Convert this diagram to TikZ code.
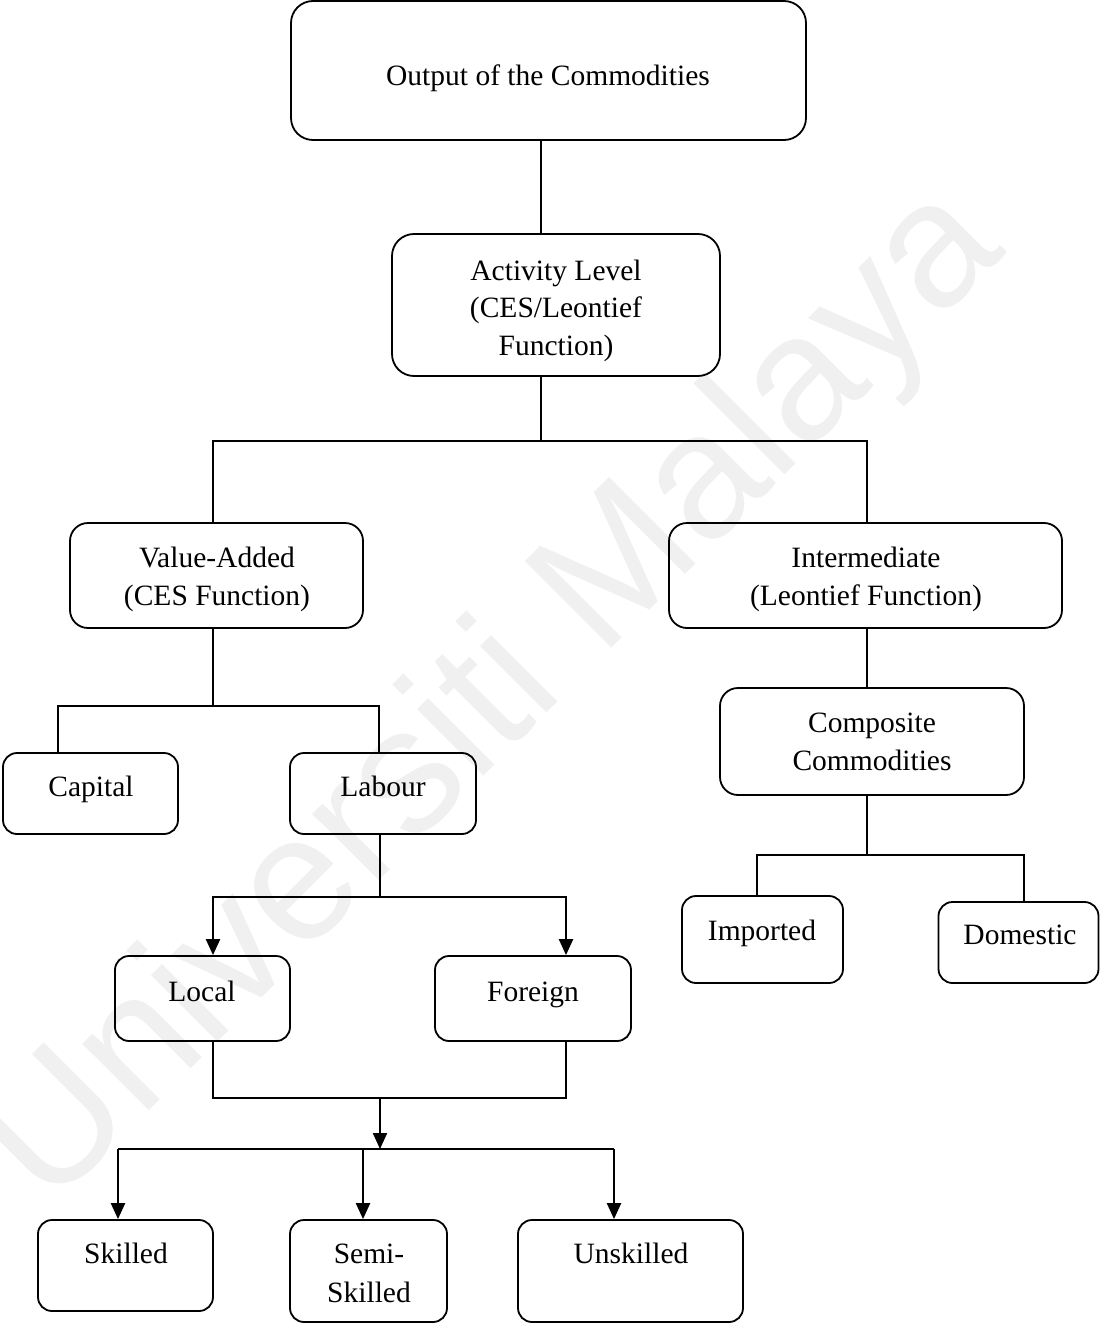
\documentclass[tikz,border=0pt]{standalone}
\usepackage{fontspec}
\setmainfont{Liberation Serif}
\newfontfamily\wmfont{Liberation Sans}
\usetikzlibrary{arrows.meta}
\begin{document}
\begin{tikzpicture}[x=1pt,y=-1pt,
  box/.style={draw, line width=1.8pt, rounded corners=#1, inner sep=0pt},
  box/.default=14pt,
  lbl/.style={anchor=base, font=\fontsize{29.5}{37.5}\selectfont, inner sep=0pt},
  link/.style={line width=1.7pt},
  feed/.style={line width=2.2pt, -{Triangle[length=16pt,width=14pt]}},
  watermark/.style={text=black!6, font=\wmfont\fontsize{178}{178}\selectfont,
    rotate=45, anchor=base west, inner sep=0pt}]
\useasboundingbox (0,0) rectangle (1100,1324);

% faint watermark behind everything
\node[watermark] (wm) at (49,1211) {Universiti Malaya};

% boxes
\node[box=22pt, minimum width=515pt, minimum height=139pt] (out)  at (548.5,70.5) {};
\node[box=22pt, minimum width=328pt, minimum height=142pt] (act)  at (556,305) {};
\node[box=18pt, minimum width=293pt, minimum height=105pt] (va)   at (216.5,575.5) {};
\node[box=18pt, minimum width=393pt, minimum height=105pt] (im)   at (865.5,575.5) {};
\node[box, minimum width=175pt, minimum height=81pt]  (cap)  at (90.5,793.5) {};
\node[box, minimum width=186pt, minimum height=81pt]  (lab)  at (383,793.5) {};
\node[box=18pt, minimum width=304pt, minimum height=107pt] (comp) at (872,741.5) {};
\node[box, minimum width=161pt, minimum height=87pt]  (imp)  at (762.5,939.5) {};
\node[box, minimum width=160pt, minimum height=81pt]  (dom)  at (1018.5,942.5) {};
\node[box, minimum width=175pt, minimum height=85pt]  (loc)  at (202.5,998.5) {};
\node[box, minimum width=196pt, minimum height=85pt]  (fo)   at (533,998.5) {};
\node[box, minimum width=175pt, minimum height=91pt]  (sk)   at (125.5,1265.5) {};
\node[box, minimum width=157pt, minimum height=102pt] (semi) at (368.5,1271) {};
\node[box, minimum width=225pt, minimum height=102pt] (uns)  at (630.5,1271) {};

% labels (placed on their baselines)
\node[lbl] (out-t)   at (548,86)   {Output of the Commodities};
\node[lbl] (act-t1)  at (556,280)  {Activity Level};
\node[lbl] (act-t2)  at (556,317.5){(CES/Leontief};
\node[lbl] (act-t3)  at (556,355)  {Function)};
\node[lbl] (va-t1)   at (217,567)  {Value-Added};
\node[lbl] (va-t2)   at (217,605)  {(CES Function)};
\node[lbl] (im-t1)   at (866,567)  {Intermediate};
\node[lbl] (im-t2)   at (866,605)  {(Leontief Function)};
\node[lbl] (cap-t)   at (91,796)   {Capital};
\node[lbl] (lab-t)   at (383,796)  {Labour};
\node[lbl] (comp-t1) at (872,732)  {Composite};
\node[lbl] (comp-t2) at (872,770)  {Commodities};
\node[lbl] (imp-t)   at (762,940)  {Imported};
\node[lbl] (dom-t)   at (1020,944) {Domestic};
\node[lbl] (loc-t)   at (202,1001) {Local};
\node[lbl] (fo-t)    at (533,1001) {Foreign};
\node[lbl] (sk-t)    at (126,1263) {Skilled};
\node[lbl] (semi-t1) at (369,1263) {Semi-};
\node[lbl] (semi-t2) at (369,1302) {Skilled};
\node[lbl] (uns-t)   at (631,1263) {Unskilled};

% junction points
\coordinate (j1)  at (541,441);
\coordinate (j1l) at (213,441);
\coordinate (j1r) at (867,441);
\coordinate (j2)  at (213,706);
\coordinate (j2l) at (58,706);
\coordinate (j2r) at (379,706);
\coordinate (j3)  at (380,897);
\coordinate (j3l) at (213,897);
\coordinate (j3r) at (566,897);
\coordinate (j4)  at (380,1098);
\coordinate (j4l) at (213,1098);
\coordinate (j4r) at (566,1098);
\coordinate (j5a) at (118,1149);
\coordinate (j5b) at (363,1149);
\coordinate (j5c) at (614,1149);
\coordinate (j5)  at (380,1149);
\coordinate (j6)  at (867,855);
\coordinate (j6l) at (757,855);
\coordinate (j6r) at (1024,855);

% top of the tree
\draw[link] (out.south -| j1) -- (act.north -| j1);
\draw[link] (act.south -| j1) -- (j1);
\draw[link] (va.north -| j1l) |- (j1r) -- (im.north -| j1r);

% value-added branch
\draw[link] (va.south -| j2) -- (j2);
\draw[link] (cap.north -| j2l) |- (j2r) -- (lab.north -| j2r);

% labour split
\draw[link] (lab.south -| j3) -- (j3);
\draw[feed] (j3) -| (loc.north -| j3l);
\draw[feed] (j3) -| (fo.north -| j3r);

% local / foreign merge into skill levels
\draw[link] (loc.south -| j4l) |- (j4r) -- (fo.south -| j4r);
\draw[feed] (j4) -- (j5);
\draw[link] (j5a) -- (j5c);
\draw[feed] (j5a) -- (sk.north -| j5a);
\draw[feed] (j5b) -- (semi.north -| j5b);
\draw[feed] (j5c) -- (uns.north -| j5c);

% intermediate branch
\draw[link] (im.south -| j6) -- (comp.north -| j6);
\draw[link] (comp.south -| j6) -- (j6);
\draw[link] (imp.north -| j6l) |- (j6r) -- (dom.north -| j6r);
\end{tikzpicture}
\end{document}
